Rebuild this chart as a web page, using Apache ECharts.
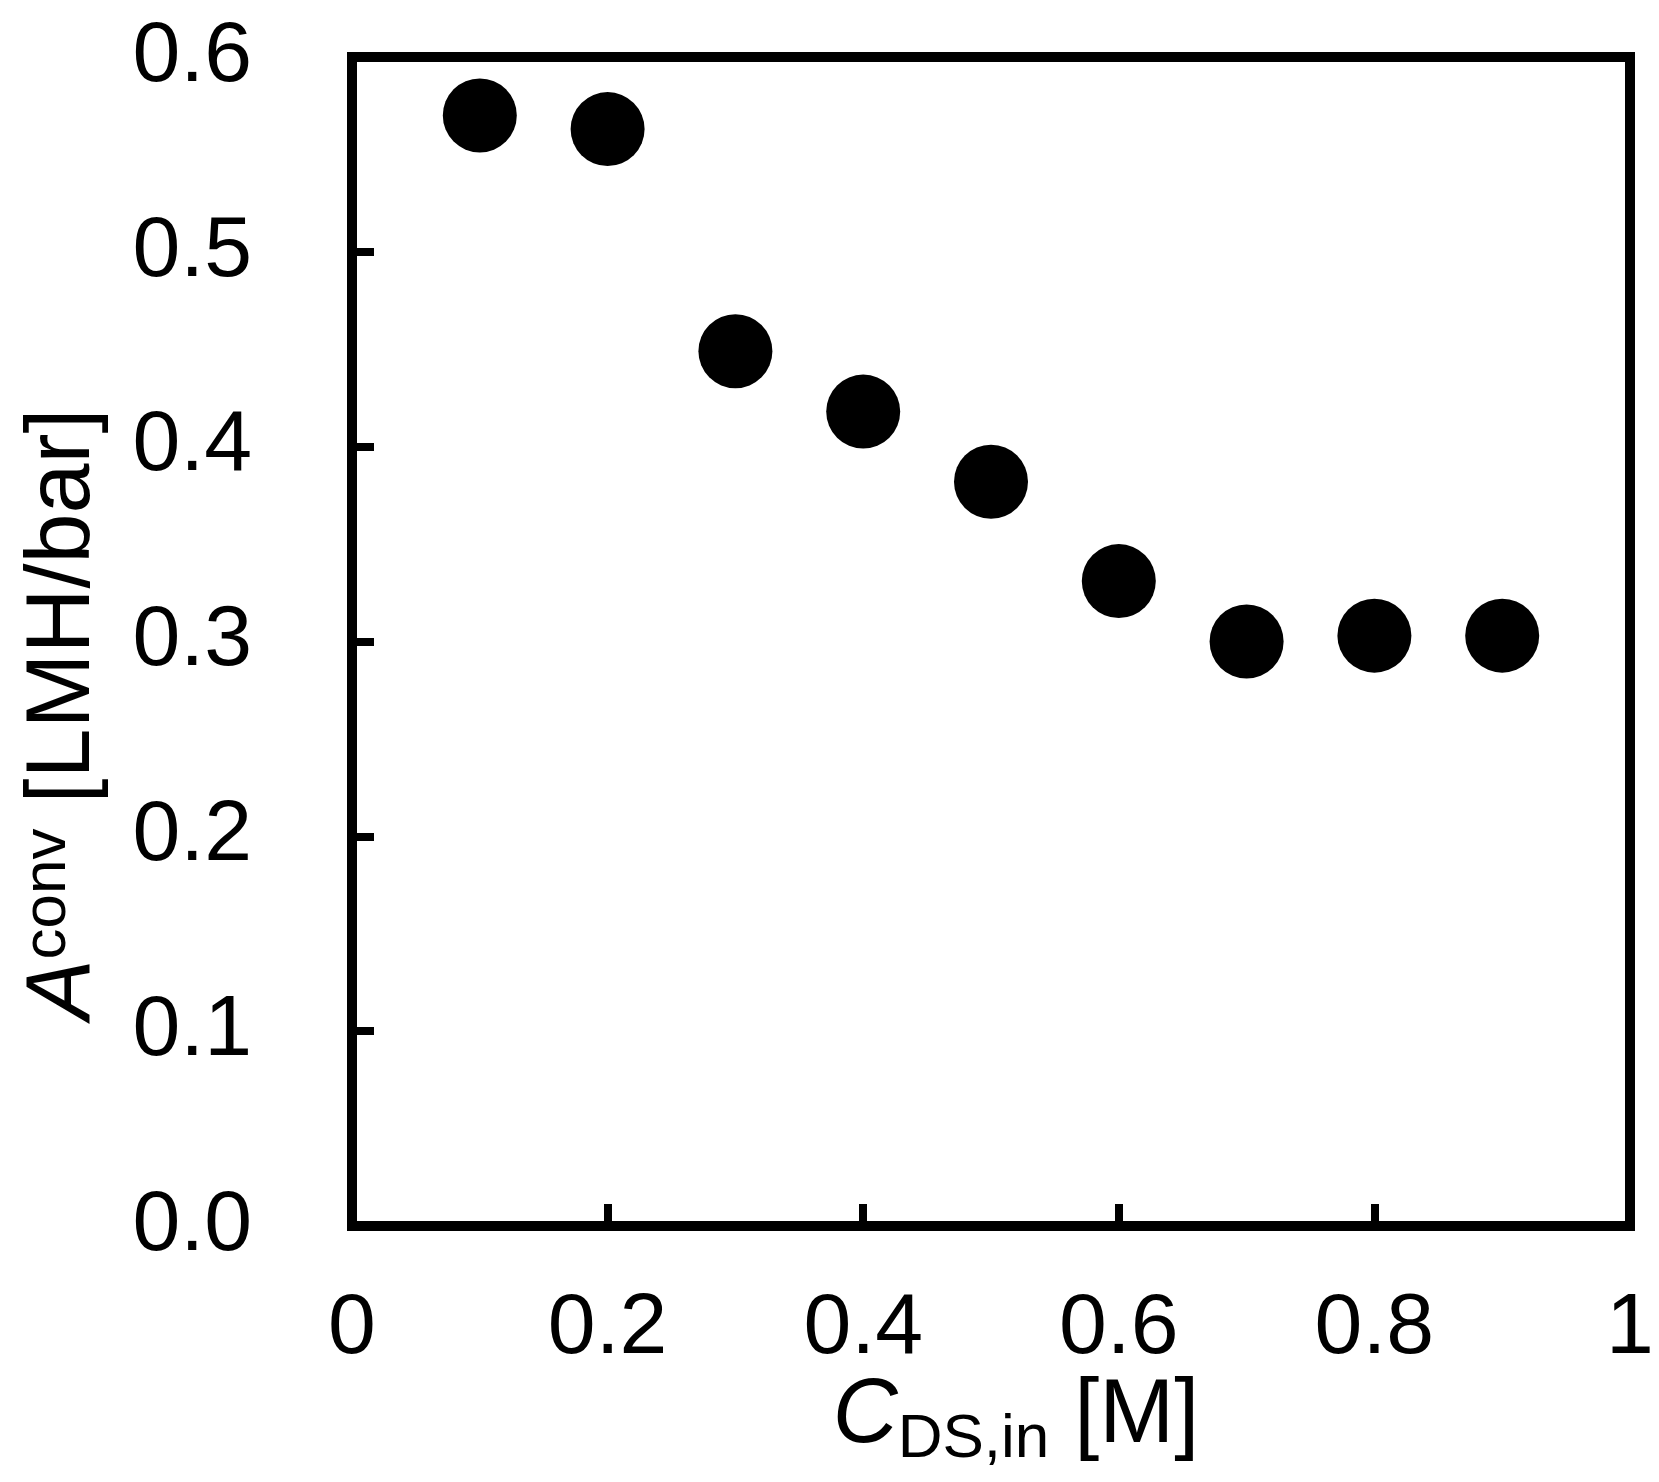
<!DOCTYPE html>
<html>
<head>
<meta charset="utf-8">
<script src="https://cdn.jsdelivr.net/npm/echarts@6/dist/echarts.min.js"></script>
<style>
  html, body { margin: 0; padding: 0; background: #ffffff; }
  #chart { width: 1659px; height: 1482px; }
</style>
</head>
<body>
<div id="chart"></div>
<script>
// concentration of draw solution [M]
var cDsIn = [0.1, 0.2, 0.3, 0.4, 0.5, 0.6, 0.7, 0.8, 0.9]
// A conv [LMH/bar]
var aConv = [0.570, 0.563, 0.449, 0.418, 0.382, 0.331, 0.300, 0.303, 0.303]
var xTicks = [0, 0.2, 0.4, 0.6, 0.8, 1]
var yTicks = [0.0, 0.1, 0.2, 0.3, 0.4, 0.5, 0.6]

var font = 'Liberation Sans, Arial, sans-serif'
var points = cDsIn.map(function (x, i) { return [x, aConv[i]] })

var chart = echarts.init(document.getElementById('chart'))
chart.setOption({
  animation: false,
  backgroundColor: '#ffffff',
  grid: {
    left: 352,
    right: 29,
    top: 57,
    bottom: 256,
    show: true,
    borderColor: '#000000',
    borderWidth: 10,
    containLabel: false,
    outerBoundsMode: 'none'
  },
  xAxis: {
    type: 'value',
    min: xTicks[0],
    max: xTicks[xTicks.length - 1],
    interval: 0.2,
    axisLine: { show: false },
    splitLine: { show: false },
    axisTick: { inside: true, length: 22, lineStyle: { color: '#000', width: 8 } },
    axisLabel: {
      margin: 60,
      fontSize: 86,
      fontFamily: font,
      color: '#000',
      formatter: function (v) { return (v === 0 || v === 1) ? String(v) : v.toFixed(1) }
    }
  },
  yAxis: {
    type: 'value',
    min: yTicks[0],
    max: yTicks[yTicks.length - 1],
    interval: 0.1,
    axisLine: { show: false },
    splitLine: { show: false },
    axisTick: { inside: true, length: 22, lineStyle: { color: '#000', width: 8 } },
    axisLabel: {
      margin: 100,
      fontSize: 86,
      fontFamily: font,
      color: '#000',
      formatter: function (v) { return v.toFixed(1) }
    }
  },
  series: [{
    type: 'scatter',
    data: points,
    symbol: 'circle',
    symbolSize: 74,
    itemStyle: { color: '#000000', opacity: 1 }
  }],
  graphic: [
    {
      type: 'text',
      x: 1016,
      y: 1417,
      style: {
        text: '{c|C}{s|DS,in}{n| [M]}',
        align: 'center',
        verticalAlign: 'middle',
        fill: '#000',
        rich: {
          c: { fontSize: 90, lineHeight: 90, fontStyle: 'italic', fontFamily: font, verticalAlign: 'top' },
          s: { fontSize: 62, lineHeight: 62, fontFamily: font, padding: [46, 0, 0, 0] },
          n: { fontSize: 90, lineHeight: 90, fontFamily: font, verticalAlign: 'top' }
        }
      }
    },
    {
      type: 'text',
      x: 64,
      y: 714,
      rotation: Math.PI / 2,
      style: {
        text: '{a|A}{s|conv}{n| [LMH/bar]}',
        align: 'center',
        verticalAlign: 'middle',
        fill: '#000',
        rich: {
          a: { fontSize: 90, lineHeight: 90, fontStyle: 'italic', fontFamily: font, verticalAlign: 'bottom' },
          s: { fontSize: 62, lineHeight: 62, fontFamily: font, padding: [0, 0, 33, 0] },
          n: { fontSize: 90, lineHeight: 90, fontFamily: font, verticalAlign: 'bottom' }
        }
      }
    }
  ]
})
</script>
</body>
</html>
